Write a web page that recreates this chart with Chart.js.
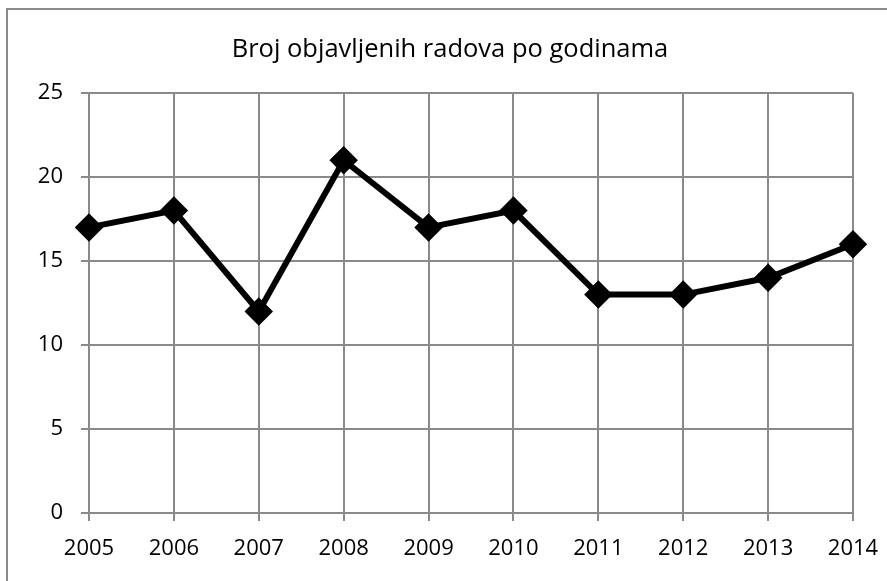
<!DOCTYPE html>
<html>
<head>
<meta charset="utf-8">
<script src="https://cdn.jsdelivr.net/npm/chart.js@4/dist/chart.umd.min.js"></script>
<style>
html,body{margin:0;padding:0;background:#fff;}
#wrap{position:relative;width:887px;height:581px;}
</style>
</head>
<body>
<div id="wrap"><canvas id="c" width="887" height="581"></canvas></div>
<script>
const chartTitle = "Broj objavljenih radova po godinama";
const years = ["2005","2006","2007","2008","2009","2010","2011","2012","2013","2014"];
const papers = [17, 18, 12, 21, 17, 18, 13, 13, 14, 16];
const yTicks = [0, 5, 10, 15, 20, 25];

const FONT = "'Open Sans', sans-serif";
const GRID = "#8a8a8a";

const frame = {
  id: 'frame',
  beforeDraw(chart) {
    const ctx = chart.ctx;
    ctx.save();
    ctx.strokeStyle = GRID;
    ctx.lineWidth = 2;
    ctx.beginPath();
    ctx.moveTo(7, 581);
    ctx.lineTo(7, 9);
    ctx.lineTo(887, 9);
    ctx.stroke();
    ctx.fillStyle = '#000';
    ctx.font = "25.5px " + FONT;
    ctx.textAlign = 'center';
    ctx.textBaseline = 'middle';
    ctx.fillText(chartTitle, 450, 50);
    ctx.restore();
  }
};

new Chart(document.getElementById('c'), {
  type: 'line',
  data: {
    labels: years,
    datasets: [{
      data: papers,
      borderColor: '#000',
      backgroundColor: '#000',
      borderWidth: 6,
      tension: 0,
      pointStyle: 'rectRot',
      pointRadius: 10,
      pointHoverRadius: 10,
      clip: false
    }]
  },
  options: {
    responsive: false,
    animation: false,
    devicePixelRatio: 1,
    layout: { padding: { left: 0, right: 34, top: 93, bottom: 0 } },
    plugins: {
      legend: { display: false },
      tooltip: { enabled: false },
      title: { display: false }
    },
    scales: {
      x: {
        offset: false,
        grid: { color: GRID, lineWidth: 2, tickLength: 8, drawTicks: true },
        border: { color: GRID, width: 2 },
        ticks: { color: '#000', font: { family: FONT, size: 22 }, padding: 15, maxRotation: 0, autoSkip: false },
        afterFit(s) { s.height = 68; s.paddingLeft = 0; s.paddingRight = 0; }
      },
      y: {
        min: 0, max: 25,
        afterBuildTicks(s) { s.ticks = yTicks.map(v => ({ value: v })); },
        grid: { color: GRID, lineWidth: 2, tickLength: 8, drawTicks: true },
        border: { color: GRID, width: 2 },
        ticks: { color: '#000', font: { family: FONT, size: 22 }, padding: 18 },
        afterFit(s) { s.width = 89; }
      }
    }
  },
  plugins: [frame]
});
</script>
</body>
</html>
